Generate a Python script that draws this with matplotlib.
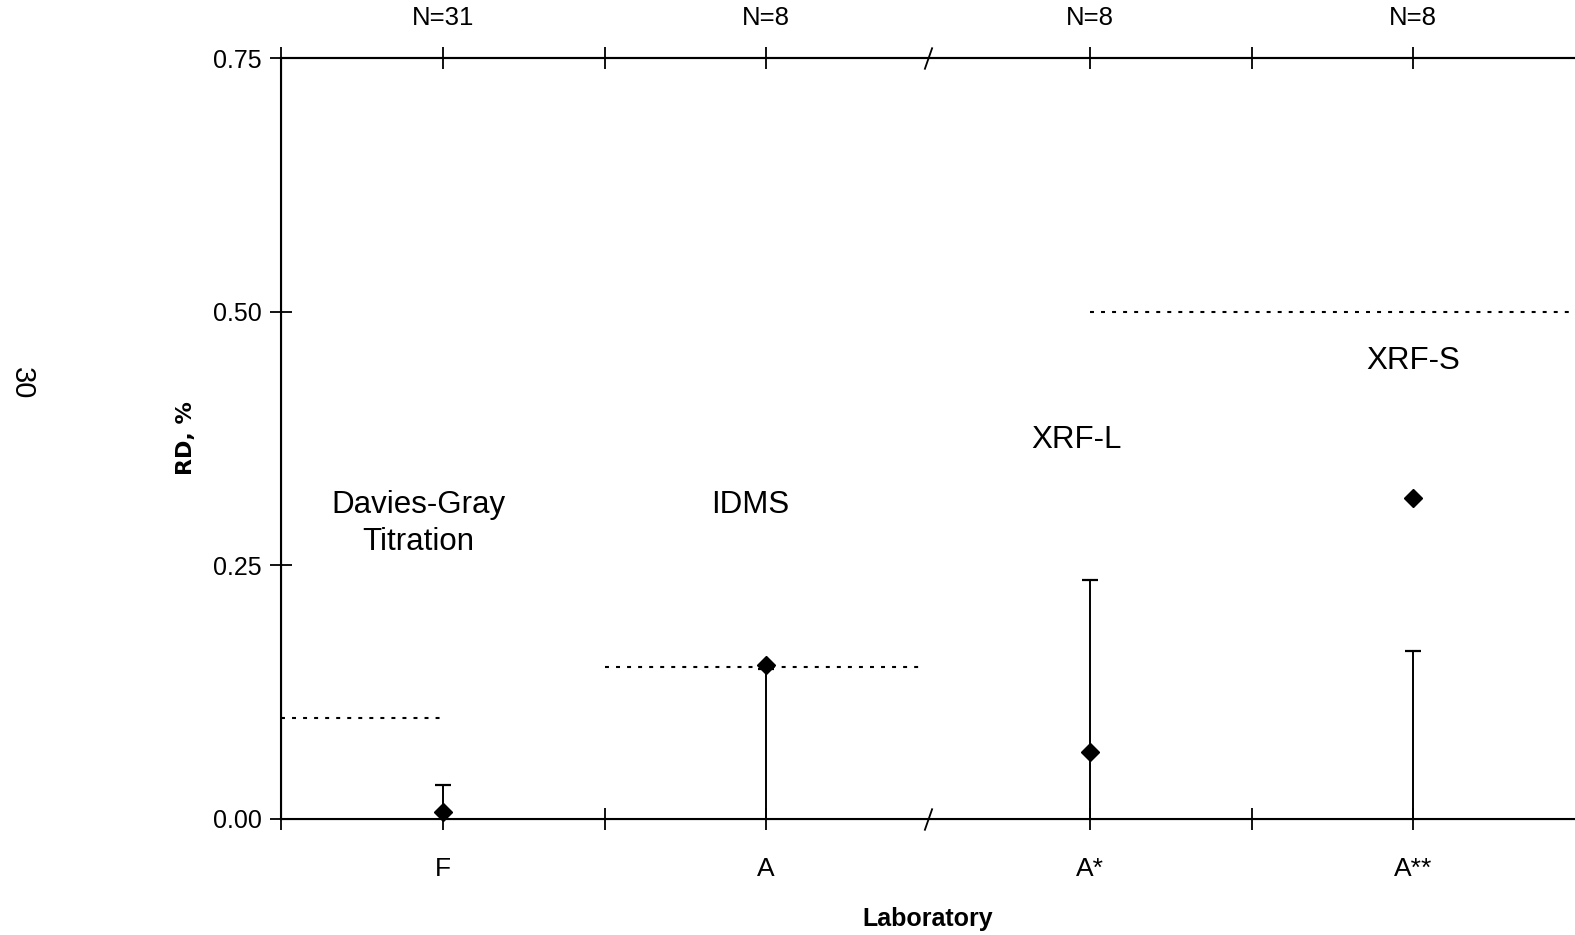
import matplotlib
matplotlib.use('Agg')
import matplotlib.pyplot as plt
from matplotlib.path import Path
import matplotlib.transforms as mtransforms

# ---- data ----
labs = ['F', 'A', 'A*', 'A**']
n_counts = ['N=31', 'N=8', 'N=8', 'N=8']
methods = ['Davies-Gray\nTitration', 'IDMS', 'XRF-L', 'XRF-S']
rd = [0.007, 0.152, 0.066, 0.316]
unc = [0.034, 0.148, 0.236, 0.166]
target_vals = [0.10, 0.15, 0.50]
y_ticks = [0.00, 0.25, 0.50, 0.75]

# ---- layout ----
xs = [2 * i + 1 for i in range(len(labs))]
xmax = 8.0
target_spans = [(0, 0.98), (2, 3.97), (5, xmax)]
method_pos = [(0.85, 0.291), (2.90, 0.309), (4.92, 0.374), (7.0, 0.451)]
break_x = 4

plt.rcParams['font.family'] = ['Liberation Sans', 'DejaVu Sans']

fig = plt.figure(figsize=(15.75, 9.35), dpi=100)
left = 281 / 1575
bottom = 1 - 819 / 935
height = (819 - 58) / 935
ax = fig.add_axes([left, bottom, 1 - left, height])

ax.set_xlim(0, xmax)
ax.set_ylim(0, 0.75)

lw = 1.5
for s in ['left', 'bottom', 'top']:
    ax.spines[s].set_linewidth(lw)
ax.spines['right'].set_visible(False)

# uncertainty bars (0 -> U with cap)
ax.vlines(xs, 0, unc, color='black', lw=1.4, zorder=3)
ax.plot(xs, unc, linestyle='none', marker='_', markersize=11, mew=1.6, color='black', zorder=3)
# RD markers
ax.plot(xs, rd, linestyle='none', marker='D', markersize=9.5, color='black', zorder=4,
        clip_on=False)

# target dotted lines
for v, (a, b) in zip(target_vals, target_spans):
    ax.plot([a, b], [v, v], color='black', lw=1.5, linestyle=(0, (1.9, 3.4)),
            dash_capstyle='butt', clip_on=False)

# method labels
for t, (px, py) in zip(methods, method_pos):
    ax.text(px, py, t, ha='center', va='center', fontsize=22.5, linespacing=1.3)

# ticks
tick_pos = [0, 1, 2, 3, 5, 6, 7]
lab_map = dict(zip(xs, labs))
ax.set_xticks(tick_pos)
ax.set_xticklabels([lab_map.get(p, '') for p in tick_pos], fontsize=19)
ax.set_yticks(y_ticks)
ax.set_yticklabels([f'{v:.2f}' for v in y_ticks], fontsize=18)
ax.tick_params(axis='both', direction='inout', length=16, width=1.3)
ax.tick_params(axis='x', pad=19)
ax.tick_params(axis='y', pad=6)

ax2 = ax.twiny()
ax2.set_xlim(ax.get_xlim())
ax2.spines['right'].set_visible(False)
ax2.spines['top'].set_linewidth(lw)
n_map = dict(zip(xs, n_counts))
ax2.set_xticks(tick_pos)
ax2.set_xticklabels([n_map.get(p, '') for p in tick_pos], fontsize=18.5)
ax2.tick_params(axis='x', direction='inout', length=16, width=1.3, pad=12)

# axis break marks
brk = Path([(-0.35, -1.0), (0.35, 1.0)], [Path.MOVETO, Path.LINETO])
trans = mtransforms.blended_transform_factory(ax.transData, ax.transAxes)
for yy in (0, 1):
    ax.plot([break_x], [yy], transform=trans, marker=brk, markersize=16, mew=1.3,
            color='black', clip_on=False, zorder=5)

ax.set_xlabel('Laboratory', fontsize=18, fontweight='bold', labelpad=19)
ax.set_ylabel('RD, %', fontsize=16, fontweight='bold', family='DejaVu Sans', labelpad=12)

fig.text(22 / 1575, 1 - 383 / 935, '30', rotation=-90, fontsize=21, ha='center', va='center')

fig.savefig('out.png', dpi=100)
